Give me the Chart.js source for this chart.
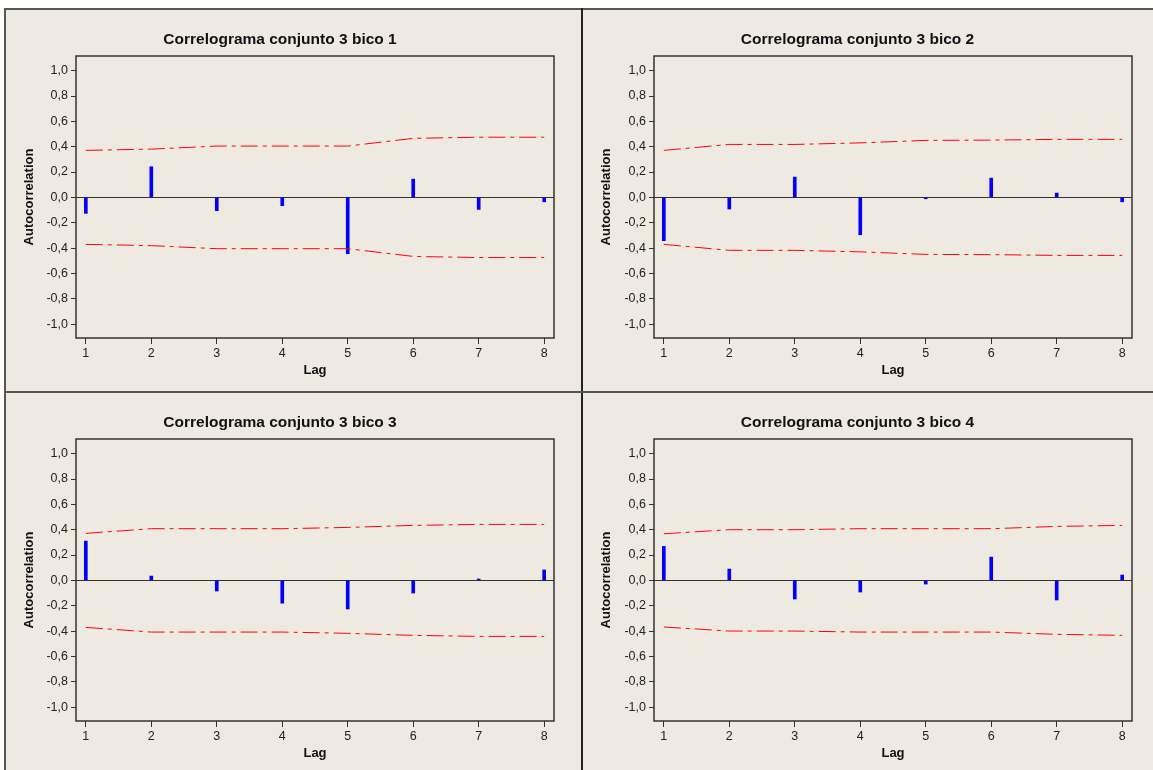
<!DOCTYPE html>
<html>
<head>
<meta charset="utf-8">
<script src="https://cdn.jsdelivr.net/npm/chart.js@4"></script>
<style>
  html, body { margin: 0; padding: 0; background: #fff; width: 1153px; height: 770px; overflow: hidden; }
  #frame { position: absolute; left: 4px; top: 8px; width: 1149px; height: 762px; background: #eeeae1;
           border-top: 2px solid #555; border-left: 2px solid #555; box-sizing: border-box; }
  .vline { position: absolute; left: 581px; top: 8px; width: 2px; height: 762px; background: #222; }
  .hline { position: absolute; left: 4px; top: 391px; width: 1149px; height: 2px; background: #555; }
  canvas { position: absolute; }
</style>
</head>
<body>
<div id="frame"></div>
<canvas id="c1" width="575" height="381" style="left:6px;top:10px"></canvas>
<canvas id="c2" width="570" height="381" style="left:583px;top:10px"></canvas>
<canvas id="c3" width="575" height="381" style="left:6px;top:393px"></canvas>
<canvas id="c4" width="570" height="381" style="left:583px;top:393px"></canvas>
<div class="vline"></div>
<div class="hline"></div>
<script>
const lags = [1, 2, 3, 4, 5, 6, 7, 8];
const yTicks = [-1, -0.8, -0.6, -0.4, -0.2, 0, 0.2, 0.4, 0.6, 0.8, 1];

// bico 1
const acf1 = [-0.126, 0.242, -0.105, -0.066, -0.445, 0.144, -0.095, -0.035];
const upper1 = [0.371, 0.381, 0.405, 0.405, 0.405, 0.466, 0.475, 0.475];
const lower1 = [-0.371, -0.381, -0.405, -0.405, -0.405, -0.466, -0.475, -0.475];
// bico 2
const acf2 = [-0.342, -0.092, 0.16, -0.295, -0.011, 0.152, 0.034, -0.035];
const upper2 = [0.371, 0.418, 0.418, 0.43, 0.45, 0.452, 0.458, 0.458];
const lower2 = [-0.371, -0.418, -0.418, -0.43, -0.45, -0.452, -0.458, -0.458];
// bico 3
const acf3 = [0.31, 0.034, -0.084, -0.18, -0.226, -0.1, 0.011, 0.082];
const upper3 = [0.371, 0.408, 0.408, 0.408, 0.418, 0.434, 0.442, 0.442];
const lower3 = [-0.371, -0.408, -0.408, -0.408, -0.418, -0.434, -0.442, -0.442];
// bico 4
const acf4 = [0.268, 0.089, -0.147, -0.092, -0.029, 0.184, -0.155, 0.042];
const upper4 = [0.368, 0.4, 0.4, 0.408, 0.408, 0.408, 0.426, 0.434];
const lower4 = [-0.368, -0.4, -0.4, -0.408, -0.408, -0.408, -0.426, -0.434];

const FONT = "Liberation Sans";

// moldura da área do gráfico
const framePlugin = {
  id: "frame",
  afterDatasetsDraw(chart) {
    const { ctx, chartArea: a } = chart;
    ctx.save();
    ctx.strokeStyle = "#333";
    ctx.lineWidth = 1.5;
    ctx.strokeRect(a.left, a.top, a.right - a.left, a.bottom - a.top);
    ctx.restore();
  },
};

function limitLine(values) {
  return {
    type: "line",
    data: lags.map((l, i) => ({ x: l, y: values[i] })),
    borderColor: "#ff0000",
    borderWidth: 1,
    borderDash: [17, 5, 4, 5],
    pointRadius: 0,
    tension: 0,
    order: 1,
  };
}

function drawCorrelogram(id, title, acf, upper, lower, yWidth, padRight) {
  const ctx = document.getElementById(id).getContext("2d");
  return new Chart(ctx, {
    type: "bar",
    data: {
      datasets: [
        {
          type: "bar",
          data: lags.map((l, i) => ({ x: l, y: acf[i] })),
          backgroundColor: "#0000ff",
          barThickness: 3,
          order: 2,
        },
        limitLine(upper),
        limitLine(lower),
      ],
    },
    options: {
      responsive: false,
      animation: false,
      devicePixelRatio: 1,
      layout: { padding: { left: 0, right: padRight, top: 0, bottom: 0 } },
      plugins: {
        legend: { display: false },
        tooltip: { enabled: false },
        title: {
          display: true,
          text: title,
          color: "#111",
          font: { family: FONT, size: 15.5, weight: "bold" },
          padding: { top: 20.7, bottom: 6.7 },
        },
      },
      scales: {
        x: {
          type: "linear",
          min: 0.85,
          max: 8.15,
          offset: false,
          afterBuildTicks: (s) => { s.ticks = lags.map((v) => ({ value: v })); },
          afterFit: (s) => { s.height = 53; },
          grid: { offset: false, drawOnChartArea: false, drawTicks: true, tickLength: 6, tickColor: "#333" },
          border: { display: false },
          ticks: { color: "#222", font: { family: FONT, size: 12.5 }, padding: 2, maxRotation: 0, autoSkip: false },
          title: {
            display: true,
            text: "Lag",
            color: "#111",
            font: { family: FONT, size: 13, weight: "bold" },
            padding: { top: 0, bottom: 13 },
          },
        },
        y: {
          min: -1.11,
          max: 1.116,
          afterBuildTicks: (s) => { s.ticks = yTicks.map((v) => ({ value: v })); },
          afterFit: (s) => { s.width = yWidth; },
          grid: {
            color: (c) => (c.tick && c.tick.value === 0 ? "#333" : "rgba(0,0,0,0)"),
            tickColor: "#333",
            tickLength: 5,
            drawTicks: true,
          },
          border: { display: false },
          ticks: {
            color: "#222",
            font: { family: FONT, size: 12.5 },
            padding: 3,
            autoSkip: false,
            callback: (v) => v.toFixed(1).replace(".", ","),
          },
          title: {
            display: true,
            text: "Autocorrelation",
            color: "#111",
            font: { family: FONT, size: 13, weight: "bold" },
            padding: { top: 16, bottom: 0 },
          },
        },
      },
    },
    plugins: [framePlugin],
  });
}

drawCorrelogram("c1", "Correlograma conjunto 3 bico 1", acf1, upper1, lower1, 70, 27);
drawCorrelogram("c2", "Correlograma conjunto 3 bico 2", acf2, upper2, lower2, 71, 21);
drawCorrelogram("c3", "Correlograma conjunto 3 bico 3", acf3, upper3, lower3, 70, 27);
drawCorrelogram("c4", "Correlograma conjunto 3 bico 4", acf4, upper4, lower4, 71, 21);
</script>
</body>
</html>
